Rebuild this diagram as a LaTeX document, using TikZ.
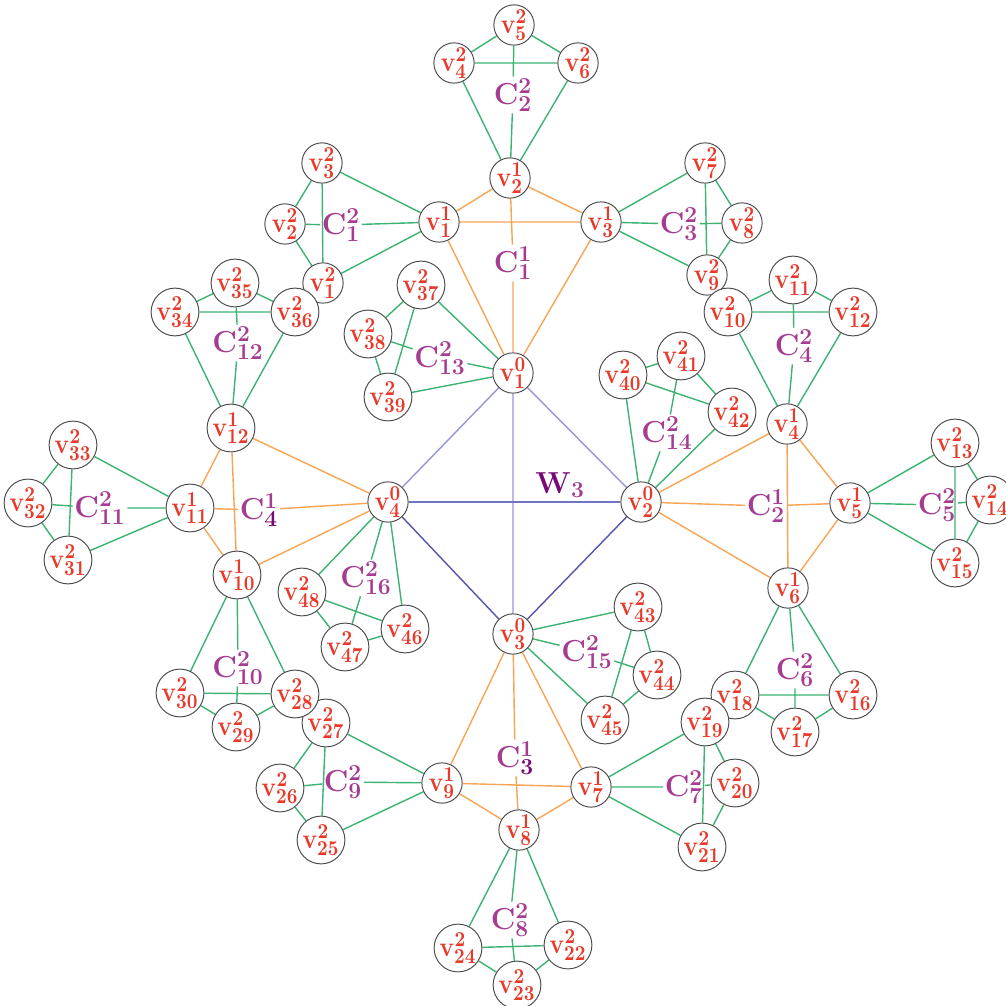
\RequirePackage{fix-cm}
\documentclass[tikz,border=0pt]{standalone}
\usepackage{graphicx}
\DeclareMathSizes{14.4}{14.4}{11}{8}
\DeclareMathSizes{17.28}{17.28}{13}{10}
\pgfdeclarelayer{bg}
\pgfsetlayers{bg,main}
\definecolor{nred}{RGB}{232,58,42}
\definecolor{cmag}{RGB}{165,60,145}
\definecolor{cdark}{RGB}{120,10,120}
\definecolor{gline}{RGB}{60,179,113}
\definecolor{oline}{RGB}{247,165,85}
\definecolor{blA}{RGB}{150,150,215}
\definecolor{blB}{RGB}{115,115,195}
\definecolor{blC}{RGB}{85,85,170}
\newcommand{\myv}[2]{\scalebox{0.96}[1.1]{$\mathbf{v}^{\mathbf{#1}}_{\mathbf{#2}}$}}
\newcommand{\myc}[2]{$\mathbf{C}^{\mathbf{#1}}_{\mathbf{#2}}$}
\begin{document}
\begin{tikzpicture}[x=0.02cm,y=-0.02cm,
  vert/.style={circle,draw=black!70,line width=0.55pt,fill=white,minimum size=0.74cm,inner sep=0pt,text=nred,font=\fontsize{14.4}{16}\selectfont},
  lab/.style={inner sep=0.8pt,text=cmag,font=\fontsize{17.28}{20}\selectfont},
  ge/.style={draw=gline,line width=0.8pt},
  oe/.style={draw=oline,line width=0.8pt}]
\useasboundingbox (0,0) rectangle (1005,1006);

% level 0
\node[vert] (z1) at (513,373) {\myv{0}{1}};
\node[vert] (z2) at (641,502) {\myv{0}{2}};
\node[vert] (z3) at (513,634) {\myv{0}{3}};
\node[vert] (z4) at (388,502) {\myv{0}{4}};

% level 1
\foreach \i/\x/\y in {1/439/222,2/510/178,3/601/222,4/787/424,5/850/503,6/788/588,
  7/591/787,8/519/830,9/442/783,10/237/575,11/190/508,12/231/428}
  \node[vert] (a\i) at (\x,\y) {\myv{1}{\i}};

% level 2
\foreach \i/\x/\y in {1/323/283,2/285/224,3/322/163,4/454/63,5/514/25,6/578/63,
  7/705/163,8/742/223,9/707/275,10/728/312,11/793/280,12/853/312,
  13/955/443,14/990/500,15/955/563,16/853/695,17/795/732,18/735/695,
  19/705/722,20/735/783,21/702/847,22/568/945,23/517/985,24/458/948,
  25/321/840,26/280/788,27/326/723,28/295/694,29/236/727,30/180/693,
  31/68/560,32/28/503,33/73/445,34/175/312,35/235/283,36/295/312,
  37/421/285,38/368/334,39/388/397,40/623/375,41/681/356,42/732/412,
  43/638/607,44/657/675,45/605/720,46/405/629,47/345/647,48/302/592}
  \node[vert] (b\i) at (\x,\y) {\myv{2}{\i}};

% labels
\node[lab] (k1) at (513,263) {\myc{1}{1}};
\node[lab] (k2) at (766,506) {\myc{1}{2}};
\node[lab] (k3) at (515,758) {$\mathbf{C}^{\mathbf{1}}_{\textcolor{cdark}{\mathbf{3}}}$};
\node[lab] (k4) at (259,510) {$\mathbf{C}^{\mathbf{1}}_{\textcolor{cdark}{\mathbf{4}}}$};
\node[lab] (c1) at (341,225) {\myc{2}{1}};
\node[lab] (c2) at (513,95) {\myc{2}{2}};
\node[lab] (c3) at (679,224) {\myc{2}{3}};
\node[lab] (c4) at (794,346) {\myc{2}{4}};
\node[lab] (c5) at (937,505) {\myc{2}{5}};
\node[lab] (c6) at (795,670) {\myc{2}{6}};
\node[lab] (c7) at (684,787) {\myc{2}{7}};
\node[lab] (c8) at (510,920) {\myc{2}{8}};
\node[lab] (c9) at (343,782) {\myc{2}{9}};
\node[lab] (c10) at (238,668) {\myc{2}{10}};
\node[lab] (c11) at (100,508) {\myc{2}{11}};
\node[lab] (c12) at (238,343) {\myc{2}{12}};
\node[lab] (c13) at (440,358) {\myc{2}{13}};
\node[lab] (c14) at (667,433) {\myc{2}{14}};
\node[lab] (c15) at (587,652) {\myc{2}{15}};
\node[lab] (c16) at (366,578) {\myc{2}{16}};
\node[lab] (w3) at (560,485) {$\textcolor{cdark}{\mathbf{W}}_{\mathbf{3}}$};

\begin{pgfonlayer}{bg}
% central wheel
\draw[blA,line width=0.8pt] (z1)--(z2) (z1)--(z4) (z1)--(z3);
\draw[blB,line width=0.8pt] (z4)--(z2);
\draw[blC,line width=0.8pt] (z4)--(z3) (z3)--(z2);
% first level clusters
\foreach \A/\P/\Q/\R/\L in {z1/a1/a2/a3/k1,z2/a4/a5/a6/k2,z3/a7/a8/a9/k3,z4/a10/a11/a12/k4}
  \draw[oe] (\A)--(\P) (\A)--(\R) (\P)--(\R) (\P)--(\Q) (\Q)--(\R) (\Q)--(\L) (\L)--(\A);
% second level clusters
\foreach \A/\P/\Q/\R/\L in {a1/b3/b2/b1/c1,a2/b4/b5/b6/c2,a3/b7/b8/b9/c3,a4/b10/b11/b12/c4,
  a5/b13/b14/b15/c5,a6/b16/b17/b18/c6,a7/b19/b20/b21/c7,a8/b22/b23/b24/c8,
  a9/b25/b26/b27/c9,a10/b28/b29/b30/c10,a11/b31/b32/b33/c11,a12/b34/b35/b36/c12,
  z1/b37/b38/b39/c13,z2/b40/b41/b42/c14,z3/b43/b44/b45/c15,z4/b46/b47/b48/c16}
  \draw[ge] (\A)--(\P) (\A)--(\R) (\P)--(\R) (\P)--(\Q) (\Q)--(\R) (\Q)--(\L) (\L)--(\A);
\end{pgfonlayer}
\end{tikzpicture}
\end{document}
